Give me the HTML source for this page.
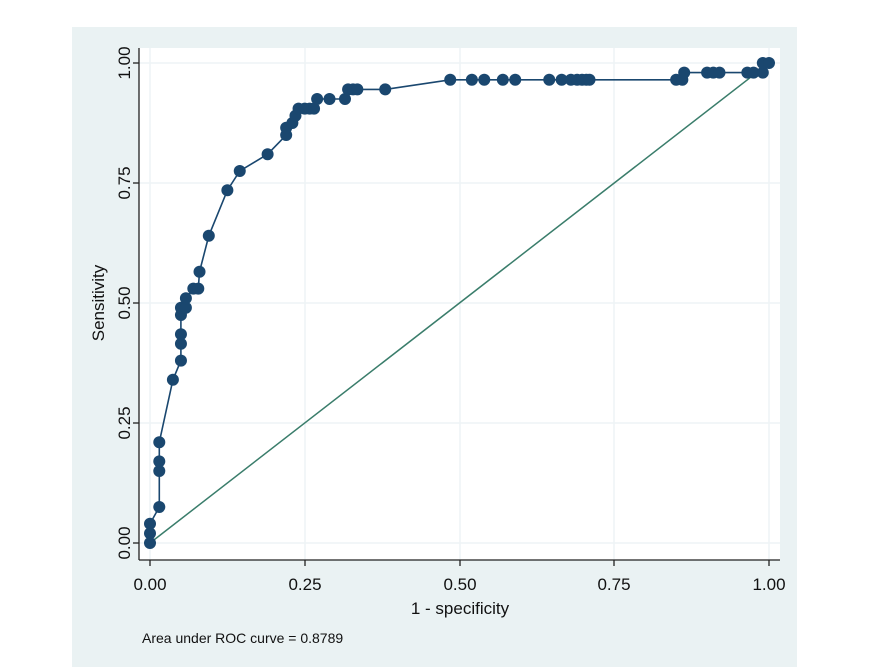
<!DOCTYPE html>
<html><head><style>
html,body{margin:0;padding:0;background:#fff;}
svg{display:block;font-family:"Liberation Sans",Arial,sans-serif;}
</style></head><body>
<svg id="s" width="886" height="667" viewBox="0 0 886 667">
<rect x="72" y="27" width="725" height="640" fill="#eaf2f3"/>
<rect x="139" y="48" width="641" height="512" fill="#fff"/>
<g stroke="#eef4f5" stroke-width="1.5">
<line x1="139" x2="780" y1="63" y2="63"/><line x1="139" x2="780" y1="183" y2="183"/>
<line x1="139" x2="780" y1="303" y2="303"/><line x1="139" x2="780" y1="423" y2="423"/>
<line x1="139" x2="780" y1="543" y2="543"/>
<line x1="150" x2="150" y1="48" y2="560"/><line x1="305" x2="305" y1="48" y2="560"/>
<line x1="460" x2="460" y1="48" y2="560"/><line x1="614" x2="614" y1="48" y2="560"/>
<line x1="769" x2="769" y1="48" y2="560"/>
</g>
<g stroke="#222" stroke-width="1.3">
<line x1="139" y1="48" x2="139" y2="560"/><line x1="139" y1="560" x2="780" y2="560"/>
<line x1="133" x2="139" y1="63" y2="63"/><line x1="133" x2="139" y1="183" y2="183"/>
<line x1="133" x2="139" y1="303" y2="303"/><line x1="133" x2="139" y1="423" y2="423"/>
<line x1="133" x2="139" y1="543" y2="543"/>
<line x1="150" x2="150" y1="560" y2="566"/><line x1="305" x2="305" y1="560" y2="566"/>
<line x1="460" x2="460" y1="560" y2="566"/><line x1="614" x2="614" y1="560" y2="566"/>
<line x1="769" x2="769" y1="560" y2="566"/>
</g>
<g font-size="17" fill="#111" text-anchor="middle">
<text transform="translate(130,63) rotate(-90)">1.00</text>
<text transform="translate(130,183) rotate(-90)">0.75</text>
<text transform="translate(130,303) rotate(-90)">0.50</text>
<text transform="translate(130,423) rotate(-90)">0.25</text>
<text transform="translate(130,543) rotate(-90)">0.00</text>
<text transform="translate(104,303) rotate(-90)">Sensitivity</text>
<text x="150" y="590">0.00</text><text x="305" y="590">0.25</text>
<text x="460" y="590">0.50</text><text x="614" y="590">0.75</text>
<text x="769" y="590">1.00</text>
<text x="460" y="614">1 - specificity</text>
</g>
<text x="142" y="643" font-size="14" fill="#111">Area under ROC curve = 0.8789</text>
<line x1="150" y1="543" x2="769" y2="63" stroke="#3a7d6b" stroke-width="1.5"/>
<g id="g"></g>
</svg>
<script>
var d=[[0,0],[0,0.02],[0,0.04],[0.015,0.075],[0.015,0.15],[0.015,0.17],[0.015,0.21],[0.037,0.34],[0.05,0.38],[0.05,0.415],[0.05,0.435],[0.05,0.475],[0.05,0.49],[0.058,0.49],[0.058,0.51],[0.07,0.53],[0.078,0.53],[0.08,0.565],[0.095,0.64],[0.125,0.735],[0.145,0.775],[0.19,0.81],[0.22,0.85],[0.22,0.865],[0.23,0.875],[0.235,0.89],[0.24,0.905],[0.25,0.905],[0.258,0.905],[0.265,0.905],[0.27,0.925],[0.29,0.925],[0.315,0.925],[0.32,0.945],[0.328,0.945],[0.335,0.945],[0.38,0.945],[0.485,0.965],[0.52,0.965],[0.54,0.965],[0.57,0.965],[0.59,0.965],[0.645,0.965],[0.665,0.965],[0.68,0.965],[0.69,0.965],[0.698,0.965],[0.705,0.965],[0.71,0.965],[0.85,0.965],[0.86,0.965],[0.863,0.98],[0.9,0.98],[0.91,0.98],[0.92,0.98],[0.965,0.98],[0.975,0.98],[0.99,0.98],[0.99,1],[1,1]];
var ns="http://www.w3.org/2000/svg",g=document.getElementById("g"),pts=[];
d.forEach(function(p){pts.push((150+619*p[0]).toFixed(1)+","+(543-480*p[1]).toFixed(1));});
var pl=document.createElementNS(ns,"polyline");pl.setAttribute("points",pts.join(" "));
pl.setAttribute("fill","none");pl.setAttribute("stroke","#1a476f");pl.setAttribute("stroke-width","1.6");g.appendChild(pl);
d.forEach(function(p){var c=document.createElementNS(ns,"circle");c.setAttribute("cx",150+619*p[0]);c.setAttribute("cy",543-480*p[1]);c.setAttribute("r","6");c.setAttribute("fill","#1a476f");g.appendChild(c);});
</script>
</body></html>
